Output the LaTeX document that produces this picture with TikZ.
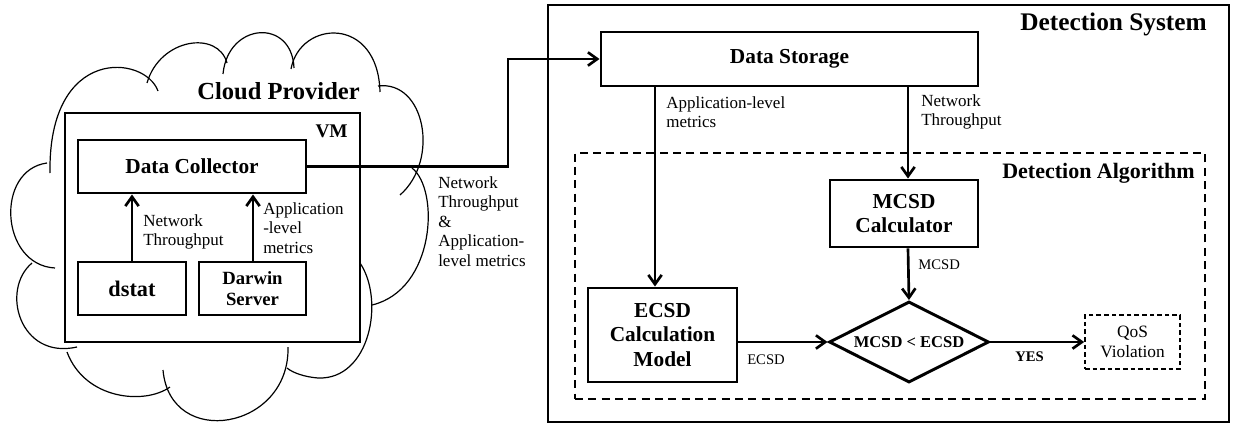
\documentclass[tikz,border=0pt]{standalone}
\usepackage{fontspec}
\setmainfont{Liberation Serif}
\usetikzlibrary{arrows.meta,shapes.geometric,calc}
\newcommand\fntBox{\bfseries\fontsize{16}{18.5}\selectfont}
\newcommand\fntLbl{\fontsize{12.75}{14.6}\selectfont}
\newcommand\fntSmall{\fontsize{11}{13}\selectfont}
\begin{document}
\begin{tikzpicture}[x=0.75pt,y=-0.75pt,
  cloudline/.style={line width=0.9pt},
  container/.style={draw, line width=1.3pt, inner sep=0pt},
  box/.style={draw, line width=2.2pt, inner sep=0pt, align=center, font=\fntBox},
  dashbox/.style={draw, line width=1.6pt, dash pattern=on 6pt off 4pt, inner sep=0pt},
  qosbox/.style={draw, line width=1.3pt, dash pattern=on 3.5pt off 2.2pt, inner sep=0pt, align=center, font=\fontsize{13}{15}\selectfont},
  lbl/.style={font=\fntLbl, align=left, inner sep=0pt, anchor=west},
  smalllbl/.style={font=\fntSmall, inner sep=0pt, anchor=west},
  title/.style={font=\bfseries\fontsize{18.4}{22}\selectfont, inner sep=0pt, anchor=east},
  arr/.style={line width=2pt, -{Straight Barb[length=7pt,width=10pt,line width=2pt]}},
  link/.style={line width=2pt}
]
\useasboundingbox (0,0) rectangle (1235,428);

% cloud
\draw[cloudline] (158,91) .. controls (145,55) and (48,45) .. (50,173);
\draw[cloudline] (147,83) .. controls (160,38) and (218,30) .. (227,63);
\draw[cloudline] (223,74) .. controls (228,22) and (292,18) .. (294,68);
\draw[cloudline] (291,69) .. controls (300,20) and (378,15) .. (380,92);
\draw[cloudline] (378,86) .. controls (425,80) and (440,160) .. (400,195);
\draw[cloudline] (412,168) .. controls (440,190) and (435,290) .. (372,305);
\draw[cloudline] (360,263) .. controls (385,300) and (370,380) .. (318,378) .. controls (305,377) and (293,373) .. (287,368);
\draw[cloudline] (288,347) .. controls (290,430) and (170,450) .. (163,370);
\draw[cloudline] (67,352) .. controls (85,400) and (145,405) .. (170,387);
\draw[cloudline] (77,347) .. controls (20,360) and (0,290) .. (32,263);
\draw[cloudline] (55,268) .. controls (0,265) and (-5,170) .. (47,163);

% VM container
\node[container, minimum width=221.25pt, minimum height=171.75pt] (vm) at (212.5,227.5) {};
\node[title] (cp) at (360,91) {Cloud Provider};
\node[title, font=\bfseries\fontsize{14.5}{17}\selectfont] (vmt) at (348,131) {VM};

\node[box, minimum width=171pt, minimum height=39.75pt] (dc) at (192,166.5) {Data Collector};
\node[box, minimum width=81pt, minimum height=39.75pt, font=\bfseries\fontsize{16.7}{19}\selectfont] (dstat) at (132,288.5) {dstat};
\node[box, minimum width=80.25pt, minimum height=39.75pt, font=\bfseries\fontsize{14}{15.75}\selectfont] (darwin) at (252.5,288.5) {Darwin\\Server};

\coordinate (xa) at (132,0);
\coordinate (xb) at (253,0);
\draw[arr] (dstat.north -| xa) -- (dc.south -| xa);
\draw[arr] (darwin.north -| xb) -- (dc.south -| xb);
\node[lbl] (l1) at (143,232) {Network\\Throughput};
\node[lbl] (l2) at (263,228) {Application\\-level\\metrics};

% detection system
\node[container, line width=1.4pt, minimum width=510.75pt, minimum height=312.75pt] (ds0) at (888.5,213.5) {};
\node[title, font=\bfseries\fontsize{19}{22}\selectfont] (dst) at (1207,24) {Detection System};
\node[box, minimum width=282.75pt, minimum height=40.5pt] (ds) at (789.5,59) {Data Storage};

\node[dashbox, minimum width=472.5pt, minimum height=184.5pt] (alg) at (890,276) {};
\node[title, font=\bfseries\fontsize{16.5}{19}\selectfont] (algt) at (1195,173) {Detection Algorithm};

\node[box, minimum width=111pt, minimum height=50.25pt] (mcsd) at (904,213.5) {MCSD\\Calculator};
\node[box, minimum width=111.75pt, minimum height=70.5pt] (ecsd) at (662.5,335) {ECSD\\Calculation\\Model};
\node[diamond, draw, line width=2.2pt, inner sep=0pt, aspect=2, minimum width=120pt, minimum height=60.75pt, font=\bfseries\fontsize{12.4}{14}\selectfont] (dia) at (909,342) {MCSD < ECSD};
\node[qosbox, minimum width=71.25pt, minimum height=40.5pt] (qos) at (1132.5,342) {QoS\\Violation};

% link from data collector to data storage
\coordinate (turn) at (508,0);
\draw[arr] (dc.east) -- (dc.east -| turn) |- (ds.west);
\node[lbl] (l3) at (438,221.5) {Network\\Throughput\\\&\\Application-\\level metrics};

\coordinate (xc) at (655,0);
\coordinate (xd) at (908,0);
\draw[arr] (ds.south -| xc) -- (ecsd.north -| xc);
\draw[arr] (ds.south -| xd) -- (mcsd.north -| xd);
\draw[arr] (mcsd.south -| xd) -- (dia.north);
\draw[arr] (ecsd.east |- dia.west) -- (dia.west);
\draw[arr] (dia.east) -- (qos.west);

\node[lbl] (l4) at (666,112) {Application-level\\metrics};
\node[lbl] (l5) at (921,112) {Network\\Throughput};
\node[smalllbl] (l6) at (918,265) {MCSD};
\node[smalllbl] (l7) at (747,360) {ECSD};
\node[smalllbl, font=\bfseries\fontsize{11}{13}\selectfont] (l8) at (1015,357) {YES};
\end{tikzpicture}
\end{document}
